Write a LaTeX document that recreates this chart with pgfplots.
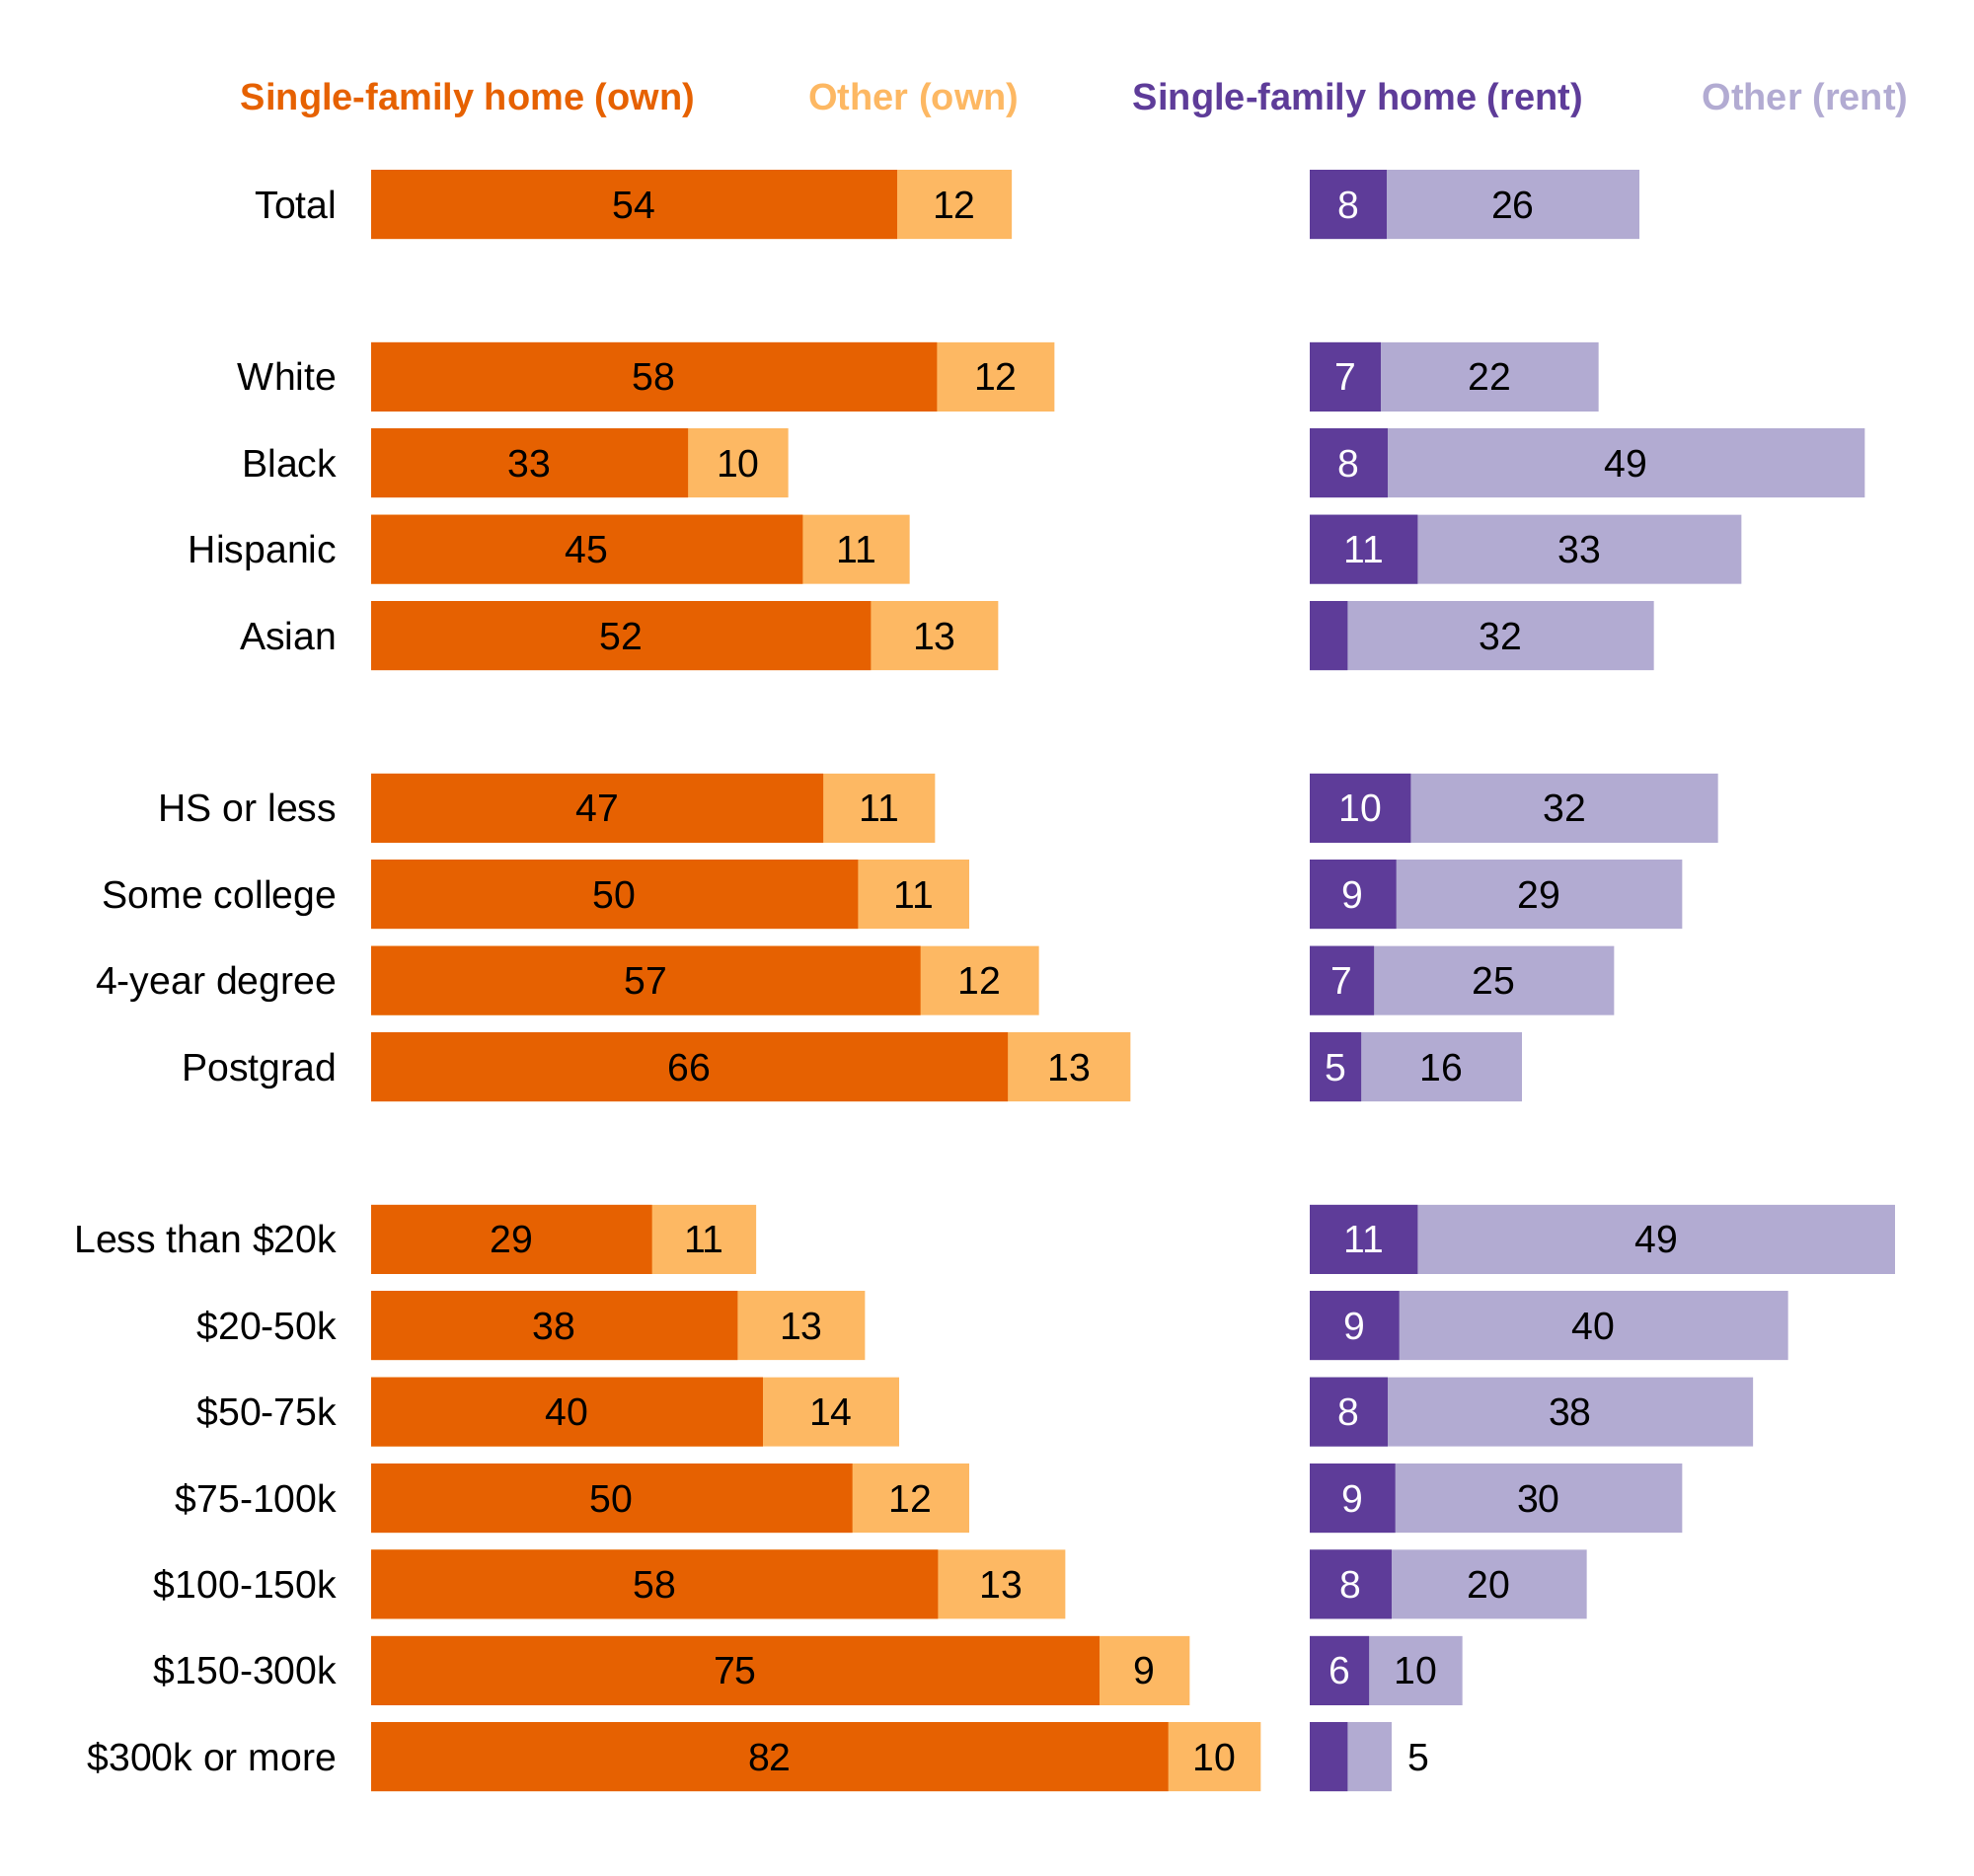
\documentclass[border=0pt]{standalone}
\usepackage{pgfplots}
\pgfplotsset{compat=1.18}
\usepackage{pgfplotstable}
\usepackage{fontspec}
\setmainfont{Liberation Sans}
\definecolor{ownsf}{HTML}{E66101}
\definecolor{ownot}{HTML}{FDB863}
\definecolor{rentsf}{HTML}{5E3C99}
\definecolor{rentot}{HTML}{B2ABD2}

% sf = single-family share, tot = single-family + other (bar end), labels as printed
\pgfplotstableread{
row sf   tot  sflab othlab
0  54.1 65.9 54 12
2  58.2 70.3 58 12
3  32.6 42.9 33 10
4  44.4 55.4 45 11
5  51.4 64.5 52 13
7  46.5 58.0 47 11
8  50.1 61.5 50 11
9  56.5 68.7 57 12
10 65.5 78.1 66 13
12 28.9 39.6 29 11
13 37.7 50.8 38 13
14 40.3 54.3 40 14
15 49.5 61.5 50 12
16 58.3 71.4 58 13
17 74.9 84.2 75 9
18 82.0 91.5 82 10
}\own

\pgfplotstableread{
row sf   tot  sflab othlab
0  7.9  33.9 8  26
2  7.3  29.7 7  22
3  8.0  57.1 8  49
4  11.1 44.4 11 33
5  3.9  35.4 {} 32
7  10.4 42.0 10 32
8  8.9  38.3 9  29
9  6.6  31.3 7  25
10 5.3  21.8 5  16
12 11.1 60.2 11 49
13 9.2  49.2 9  40
14 8.0  45.6 8  38
15 8.8  38.3 9  30
16 8.4  28.5 8  20
17 6.1  15.7 6  10
18 3.9  8.4  {} {}
}\rent

\newcommand{\lblfont}{\fontsize{9.8}{11}\selectfont}
\newcommand{\legfont}{\bfseries\fontsize{9.5}{11}\selectfont}

\pgfplotsset{
  rowaxis/.style={
    x=2.4625pt, y=21.85pt, y dir=reverse,
    xmin=0, ymin=-0.5, ymax=18.5,
    enlargelimits=false, clip=false,
    anchor=north west,
  },
  segbar/.style={xbar, bar shift=0pt, bar width=17.5pt, draw=none, fill=#1},
  seglab/.style={draw=none, mark=none, nodes near coords, point meta=explicit symbolic,
    nodes near coords align={center},
    every node near coord/.append style={font=\lblfont, text=#1, inner sep=0pt,
      text height=7pt, text depth=0pt, anchor=center}},
}

\begin{document}
\begin{tikzpicture}
\path[use as bounding box] (0,0) rectangle (500pt,475pt);

\node[font=\legfont, text=ownsf, text height=6.8pt, text depth=0pt, inner sep=0pt] at (118.5pt,450.6pt) {Single-family home (own)};
\node[font=\legfont, text=ownot, text height=6.8pt, text depth=0pt, inner sep=0pt] at (231.5pt,450.6pt) {Other (own)};
\node[font=\legfont, text=rentsf, text height=6.8pt, text depth=0pt, inner sep=0pt] at (344pt,450.6pt) {Single-family home (rent)};
\node[font=\legfont, text=rentot, text height=6.8pt, text depth=0pt, inner sep=0pt] at (457.25pt,450.6pt) {Other (rent)};

\begin{axis}[rowaxis,
  at={(94pt,434.175pt)}, xmax=95,
  hide x axis, axis y line*=left, y axis line style={draw=none},
  major tick length=0pt,
  ytick={0,2,3,4,5,7,8,9,10,12,13,14,15,16,17,18},
  yticklabels={Total,White,Black,Hispanic,Asian,HS or less,Some college,4-year degree,Postgrad,Less than \$20k,\$20-50k,\$50-75k,\$75-100k,\$100-150k,\$150-300k,\$300k or more},
  yticklabel style={font=\lblfont, text height=7pt, text depth=0pt, inner sep=0pt, anchor=east, xshift=-8.5pt},
]
\addplot[segbar=ownot] table[x=tot, y=row] {\own};
\addplot[segbar=ownsf] table[x=sf, y=row] {\own};
\addplot[seglab=black] table[x expr=\thisrow{sf}/2, y=row, meta=sflab] {\own};
\addplot[seglab=black] table[x expr=(\thisrow{sf}+\thisrow{tot})/2, y=row, meta=othlab] {\own};
\end{axis}

\begin{axis}[rowaxis,
  at={(331.75pt,434.175pt)}, xmax=62,
  hide axis,
]
\addplot[segbar=rentot] table[x=tot, y=row] {\rent};
\addplot[segbar=rentsf] table[x=sf, y=row] {\rent};
\addplot[seglab=white] table[x expr=\thisrow{sf}/2, y=row, meta=sflab] {\rent};
\addplot[seglab=black] table[x expr=(\thisrow{sf}+\thisrow{tot})/2, y=row, meta=othlab] {\rent};
\addplot[draw=none, mark=none, nodes near coords, point meta=explicit symbolic,
  nodes near coords align={center},
  every node near coord/.append style={font=\lblfont, text=black, inner sep=0pt,
    text height=7pt, text depth=0pt, anchor=west, xshift=4pt}]
  table[x=tot, y=row, meta=lab] {
row tot lab
18 8.4 5
};
\end{axis}
\end{tikzpicture}
\end{document}
